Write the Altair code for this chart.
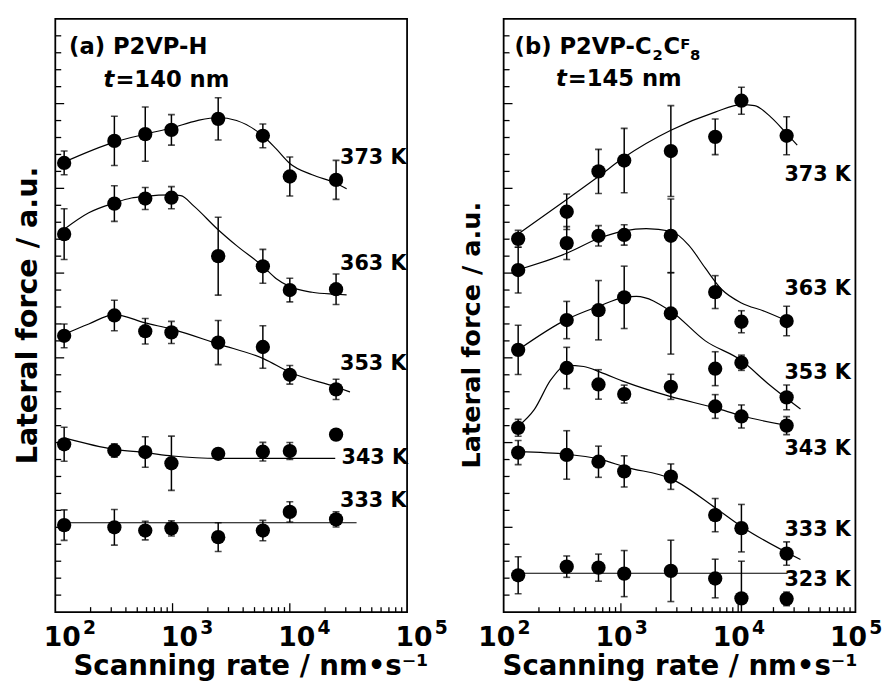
import altair as alt
import pandas as pd

FONT = "DejaVu Sans"
W = 357
H = 602

# ---------------- panel (a): P2VP-H, t = 140 nm ----------------
a_rate = [119, 319, 585, 978, 2450, 5890, 10000, 24800]
a373_y = [26.5, 27.8, 28.2, 28.45, 29.1, 28.1, 25.7, 25.5]
a373_e = [0.7, 1.45, 1.6, 0.9, 1.25, 0.7, 1.15, 1.15]
a363_y = [22.3, 24.1, 24.4, 24.45, 21.0, 20.4, 19.0, 19.05]
a363_e = [1.5, 1.05, 0.65, 0.65, 2.3, 1.0, 0.7, 0.9]
a353_y = [16.3, 17.5, 16.57, 16.5, 15.9, 15.64, 14.0, 13.14]
a353_e = [0.7, 0.9, 0.75, 0.65, 1.3, 1.25, 0.55, 0.6]
a343_y = [9.9, 9.53, 9.44, 8.78, 9.34, 9.46, 9.5, 10.47]
a343_e = [1.0, 0.4, 0.9, 1.6, 0.3, 0.55, 0.5, 0.0]
a333_y = [5.13, 5.0, 4.81, 4.94, 4.42, 4.81, 5.91, 5.47]
a333_e = [0.9, 1.05, 0.55, 0.45, 0.85, 0.6, 0.6, 0.45]

a373_cx = [119, 319, 585, 981, 1622, 2421, 3516, 5888, 7620, 10000, 15500, 24800, 30500]
a373_cy = [26.55, 27.73, 28.2, 28.56, 29.0, 29.18, 29.0, 28.1, 27.34, 26.47, 25.8, 25.3, 24.97]
a363_cx = [119, 193, 319, 446, 585, 981, 1175, 1521, 2421, 3516, 5900, 7620, 10000, 15500, 24800, 30500]
a363_cy = [22.59, 23.56, 24.14, 24.43, 24.53, 24.61, 24.57, 23.95, 22.59, 21.62, 20.4, 19.68, 19.2, 18.87, 18.75, 18.71]
a353_cx = [119, 193, 319, 585, 1000, 2467, 6010, 10000, 24800, 32600]
a353_cy = [16.39, 17.0, 17.55, 17.06, 16.68, 15.81, 14.94, 14.15, 13.28, 12.99]
a343_cx = [119, 319, 585, 1000, 2467, 24400]
a343_cy = [10.28, 9.6, 9.41, 9.21, 9.07, 9.07]
a333_cx = [119, 37100]
a333_cy = [5.27, 5.27]

a_temps = ["373 K", "363 K", "353 K", "343 K", "333 K"]
a_label_x = [26800, 26800, 26800, 27600, 26800]
a_label_y = [26.76, 20.54, 14.66, 9.08, 6.57]

# ---------------- panel (b): P2VP-C2CF8, t = 145 nm ----------------
b_rate = [133, 345, 644, 1067, 2667, 6370, 10660, 25900]
b373_y = [22.02, 23.62, 26.0, 26.64, 27.2, 28.04, 30.17, 28.1]
b373_e = [0.5, 1.05, 1.3, 1.9, 2.68, 1.05, 0.8, 1.12]
b363_y = [20.18, 21.77, 22.2, 22.25, 22.2, 18.88, 17.13, 17.17]
b363_e = [1.35, 0.97, 0.6, 0.6, 2.17, 0.97, 0.65, 0.87]
b353_y = [15.47, 17.23, 17.81, 18.57, 17.62, 14.36, 14.71, 12.67]
b353_e = [1.45, 1.1, 1.75, 1.84, 2.4, 1.0, 0.45, 0.73]
b343_y = [10.87, 14.4, 13.43, 12.86, 13.29, 12.13, 11.54, 11.0]
b343_e = [0.5, 1.22, 0.87, 0.53, 0.74, 0.7, 0.68, 0.53]
b333_y = [9.41, 9.27, 8.87, 8.3, 7.99, 5.72, 4.95, 3.45]
b333_e = [0.71, 1.43, 0.92, 0.92, 0.75, 0.98, 1.4, 0.69]
b323_y = [2.17, 2.68, 2.62, 2.27, 2.43, 1.98, 0.81, 0.78]
b323_e = [1.09, 0.63, 0.8, 1.36, 1.81, 1.14, 2.19, 0.4]

b373_cx = [133, 345, 644, 1067, 2667, 6370, 10660, 13800, 19000, 25900, 31900]
b373_cy = [22.31, 24.34, 25.7, 26.83, 28.43, 29.5, 29.94, 29.88, 29.2, 28.23, 27.55]
b363_cx = [133, 345, 644, 1067, 1644, 2667, 3800, 5250, 7250, 10660, 16750, 26300]
b363_cy = [20.2, 21.17, 22.04, 22.49, 22.62, 22.47, 21.64, 20.29, 19.03, 18.24, 17.75, 17.17]
b353_cx = [133, 345, 644, 1067, 1355, 2667, 5250, 10660, 17900, 34000]
b353_cy = [15.47, 17.27, 18.04, 18.57, 18.63, 17.75, 16.0, 14.84, 13.49, 11.98]
b343_cx = [133, 183, 253, 345, 482, 666, 1081, 2667, 6500, 10660, 26800]
b343_cy = [10.96, 11.96, 13.71, 14.55, 14.49, 14.16, 13.58, 12.71, 12.03, 11.58, 11.0]
b333_cx = [133, 350, 653, 1117, 2700, 6500, 10660, 34000]
b333_cy = [9.47, 9.31, 9.02, 8.54, 7.86, 6.11, 5.05, 3.1]
b323_cx = [133, 26300]
b323_cy = [2.29, 2.29]

b_temps = ["373 K", "363 K", "353 K", "343 K", "333 K", "323 K"]
b_label_x = [24800] * 6
b_label_y = [25.8, 19.03, 14.09, 9.6, 4.85, 1.88]

# ---------------- axis ticks / labels ----------------
x_minor = [200, 300, 400, 500, 600, 700, 800, 900,
           2000, 3000, 4000, 5000, 6000, 7000, 8000, 9000,
           20000, 30000, 40000, 50000, 60000, 70000, 80000, 90000]
x_major = [1000, 10000]
y_minor = [k for k in range(1, 35) if k % 5]
y_major = [5, 10, 15, 20, 25, 30]
dec_values = [100, 1000, 10000, 100000]
dec_exps = ["2", "3", "4", "5"]


def points_df(rate, series):
    rows = []
    for name, ys, es in series:
        for r, y, e in zip(rate, ys, es):
            rows.append({"s": name, "x": r, "y": y, "lo": y - e, "hi": y + e, "e": e})
    return pd.DataFrame(rows)


def curves_df(series):
    rows = []
    for name, cx, cy in series:
        for x, y in zip(cx, cy):
            rows.append({"s": name, "x": x, "y": y})
    return pd.DataFrame(rows)


def panel(pts, curves, labs, title_parts, lab_dx, ytitle_size, ytitle_pad, ytitle_y, xtitle_x=None):
    xs = alt.Scale(type="log", domain=[100, 100000], nice=False)
    ys = alt.Scale(domain=[0, 35], nice=False, zero=False)
    xkw = dict(labels=False, ticks=False, domain=False, grid=False,
               title="Scanning rate / nm\u2022s\u207b\u00b9", titleFont=FONT, titleFontSize=28,
               titleFontWeight="bold", titleColor="black", titlePadding=41)
    if xtitle_x is not None:
        xkw["titleX"] = xtitle_x
    xax = alt.Axis(**xkw)
    yax = alt.Axis(labels=False, ticks=False, domain=False, grid=False,
                   title="Lateral force / a.u.", titleFont=FONT, titleFontSize=ytitle_size,
                   titleFontWeight="bold", titleColor="black", titlePadding=ytitle_pad,
                   titleY=ytitle_y)

    def X(f="x"):
        return alt.X(f"{f}:Q", scale=xs, axis=xax)

    def Y(f="y"):
        return alt.Y(f"{f}:Q", scale=ys, axis=yax)

    err = pts[pts["e"] > 0]
    layers = []
    layers.append(alt.Chart(curves).mark_line(color="black", strokeWidth=1.2, interpolate="monotone")
                  .encode(x=X(), y=Y(), detail="s:N"))
    layers.append(alt.Chart(err).mark_rule(color="black", strokeWidth=1.5, clip=True)
                  .encode(x=X(), y=Y("lo"), y2="hi:Q"))
    layers.append(alt.Chart(err).mark_tick(color="black", orient="horizontal", size=7, thickness=1.6, clip=True)
                  .encode(x=X(), y=Y("lo")))
    layers.append(alt.Chart(err).mark_tick(color="black", orient="horizontal", size=7, thickness=1.6, clip=True)
                  .encode(x=X(), y=Y("hi")))
    layers.append(alt.Chart(pts).mark_circle(color="black", size=210, opacity=1)
                  .encode(x=X(), y=Y()))
    layers.append(alt.Chart(labs).mark_text(align="left", baseline="middle", font=FONT, fontSize=21,
                                            fontWeight="bold", color="black")
                  .encode(x=X(), y=Y(), text="t:N"))
    # panel titles
    for part in title_parts:
        df = pd.DataFrame({"x": [part["x"]], "y": [part["y"]], "t": [part["t"]]})
        layers.append(alt.Chart(df).mark_text(align="left", baseline="middle", font=FONT,
                                              fontSize=part.get("size", 23), fontWeight="bold",
                                              fontStyle=part.get("style", "normal"), color="black",
                                              dx=part.get("dx", 0), dy=part.get("dy", 0))
                      .encode(x=X(), y=Y(), text="t:N"))
    # inward ticks
    layers.append(alt.Chart(pd.DataFrame({"y": y_minor})).mark_rule(color="black", strokeWidth=1.3)
                  .encode(y=Y(), x=alt.value(0), x2=alt.value(6)))
    layers.append(alt.Chart(pd.DataFrame({"y": y_major})).mark_rule(color="black", strokeWidth=1.3)
                  .encode(y=Y(), x=alt.value(0), x2=alt.value(9)))
    layers.append(alt.Chart(pd.DataFrame({"x": x_minor})).mark_rule(color="black", strokeWidth=1.3)
                  .encode(x=X(), y=alt.value(H), y2=alt.value(H - 5)))
    layers.append(alt.Chart(pd.DataFrame({"x": x_major})).mark_rule(color="black", strokeWidth=1.3)
                  .encode(x=X(), y=alt.value(H), y2=alt.value(H - 9)))
    # decade tick labels 10^n
    dec = pd.DataFrame({"x": dec_values, "e": dec_exps})
    layers.append(alt.Chart(dec).mark_text(align="center", baseline="alphabetic", font=FONT, fontSize=27,
                                           fontWeight="bold", color="black", dx=lab_dx)
                  .encode(x=X(), y=alt.value(H + 34), text=alt.value("10")))
    layers.append(alt.Chart(dec).mark_text(align="left", baseline="alphabetic", font=FONT, fontSize=19,
                                           fontWeight="bold", color="black", dx=lab_dx + 21)
                  .encode(x=X(), y=alt.value(H + 22), text="e:N"))
    return alt.layer(*layers).properties(width=W, height=H)


a_pts = points_df(a_rate, [("373", a373_y, a373_e), ("363", a363_y, a363_e), ("353", a353_y, a353_e),
                           ("343", a343_y, a343_e), ("333", a333_y, a333_e)])
a_cur = curves_df([("373", a373_cx, a373_cy), ("363", a363_cx, a363_cy), ("353", a353_cx, a353_cy),
                   ("343", a343_cx, a343_cy), ("333", a333_cx, a333_cy)])
a_lab = pd.DataFrame({"x": a_label_x, "y": a_label_y, "t": a_temps})

b_pts = points_df(b_rate, [("373", b373_y, b373_e), ("363", b363_y, b363_e), ("353", b353_y, b353_e),
                           ("343", b343_y, b343_e), ("333", b333_y, b333_e), ("323", b323_y, b323_e)])
b_cur = curves_df([("373", b373_cx, b373_cy), ("363", b363_cx, b363_cy), ("353", b353_cx, b353_cy),
                   ("343", b343_cx, b343_cy), ("333", b333_cx, b333_cy), ("323", b323_cx, b323_cy)])
b_lab = pd.DataFrame({"x": b_label_x, "y": b_label_y, "t": b_temps})

a_title = [
    {"x": 131, "y": 33.33, "t": "(a) P2VP-H"},
    {"x": 258, "y": 31.41, "t": "t", "style": "italic"},
    {"x": 258, "y": 31.41, "t": "=140 nm", "dx": 12},
]
b_title = [
    {"x": 124, "y": 33.35, "t": "(b) P2VP-C"},
    {"x": 124, "y": 33.35, "t": "2", "size": 15, "dx": 140, "dy": 8},
    {"x": 124, "y": 33.35, "t": "C", "dx": 151},
    {"x": 124, "y": 33.35, "t": "F", "size": 15, "dx": 168, "dy": -3},
    {"x": 124, "y": 33.35, "t": "8", "size": 15, "dx": 178, "dy": 8},
    {"x": 279, "y": 31.43, "t": "t", "style": "italic"},
    {"x": 279, "y": 31.43, "t": "=145 nm", "dx": 12},
]

left = panel(a_pts, a_cur, a_lab, a_title, lab_dx=7, ytitle_size=29, ytitle_pad=13, ytitle_y=300.5,
             xtitle_x=198)
right = panel(b_pts, b_cur, b_lab, b_title, lab_dx=-7, ytitle_size=26, ytitle_pad=19, ytitle_y=320.5)

chart = (
    alt.hconcat(left, right, spacing=98, bounds="flush")
    .properties(padding={"left": 5, "top": 5, "right": 0, "bottom": 0}, background="white")
    .configure_view(stroke="black", strokeWidth=1.8)
)

chart.save("out.html", embed_options={"renderer": "svg", "actions": False})
